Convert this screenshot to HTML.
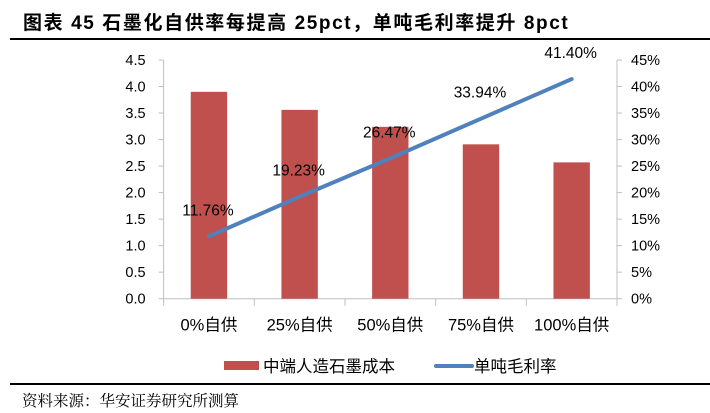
<!DOCTYPE html>
<html><head><meta charset="utf-8"><style>
body{margin:0;width:710px;height:413px;background:#fff;overflow:hidden;position:relative;font-family:"Liberation Sans","Noto Sans CJK SC",sans-serif}
.t{position:absolute;white-space:nowrap}
</style></head><body>
<div class="t" style="left:23px;top:8px;font-size:19px;font-weight:bold;color:#000;letter-spacing:1.6px">图表 45 石墨化自供率每提高 25pct，单吨毛利率提升 8pct</div>
<div style="position:absolute;left:10px;top:38px;width:700px;height:1.5px;background:#000"></div>
<svg id="c" width="710" height="413" style="position:absolute;left:0;top:0"></svg>
<div style="position:absolute;left:10px;top:383px;width:700px;height:1.5px;background:#000"></div>
<div class="t" style="left:22px;top:389px;font-size:15.5px;font-family:'Liberation Serif','Noto Serif CJK SC',serif;color:#000">资料来源：华安证券研究所测算</div>
<script>
const categories=["0%自供","25%自供","50%自供","75%自供","100%自供"];
const costValues=[3.90,3.56,3.24,2.91,2.57];
const marginValues=[11.76,19.23,26.47,33.94,41.40];
const leftTicks=["0.0","0.5","1.0","1.5","2.0","2.5","3.0","3.5","4.0","4.5"];
const rightTicks=["0%","5%","10%","15%","20%","25%","30%","35%","40%","45%"];
const svg=document.getElementById('c');const NS='http://www.w3.org/2000/svg';
const X0=163.6,X1=617,Y0=298.7,Y1=60;
const bw=(X1-X0)/categories.length;
const xc=i=>X0+bw*(i+0.5);
const yL=v=>Y0-(v/4.5)*(Y0-Y1);
const yR=v=>Y0-(v/45)*(Y0-Y1);
function mk(t,a,txt){const e=document.createElementNS(NS,t);for(const k in a)e.setAttribute(k,a[k]);if(txt!==undefined)e.textContent=txt;svg.appendChild(e);return e;}
const ax='#bfbfbf';
let e=mk('line',{x1:X0,y1:Y1,x2:X0,y2:Y0,stroke:ax});

e=mk('line',{x1:X1,y1:Y1,x2:X1,y2:Y0,stroke:ax});

e=mk('line',{x1:X0,y1:Y0,x2:X1,y2:Y0,stroke:ax});

leftTicks.forEach((l,i)=>{const y=yL(i*0.5);
mk('line',{x1:X0-5,y1:y,x2:X0,y2:y,stroke:ax});
e=mk('text',{x:X0-18,y:y+5,'text-anchor':'end','font-size':'14.5',fill:'#000'},l);
});
rightTicks.forEach((l,i)=>{const y=yR(i*5);
mk('line',{x1:X1,y1:y,x2:X1+5,y2:y,stroke:ax});
e=mk('text',{x:X1+14,y:y+5,'font-size':'14.5',fill:'#000'},l);
});
for(let i=0;i<=categories.length;i++){mk('line',{x1:X0+bw*i,y1:Y0,x2:X0+bw*i,y2:Y0+7,stroke:ax});}
categories.forEach((c,i)=>{e=mk('text',{x:xc(i),y:Y0+32,'text-anchor':'middle','font-size':'16.5',fill:'#000'},c);
});
costValues.forEach((v,i)=>{e=mk('rect',{x:xc(i)-18.2,y:yL(v),width:36.4,height:Y0-yL(v),fill:'#c0504d'});
});
e=mk('polyline',{points:marginValues.map((v,i)=>xc(i)+','+yR(v)).join(' '),fill:'none',stroke:'#4f81bd','stroke-width':4,'stroke-linecap':'round'});

marginValues.forEach((v,i)=>{e=mk('text',{x:xc(i)-1,y:yR(v)-21,'text-anchor':'middle','font-size':'15.5',fill:'#000'},v.toFixed(2)+'%');
});
e=mk('rect',{x:224,y:361,width:35,height:9,fill:'#c0504d'});

e=mk('text',{x:263,y:372,'font-size':'16.5',fill:'#000'},'中端人造石墨成本');

e=mk('line',{x1:436,y1:366,x2:472,y2:366,stroke:'#4f81bd','stroke-width':4,'stroke-linecap':'round'});

e=mk('text',{x:474,y:372,'font-size':'16.5',fill:'#000'},'单吨毛利率');

</script>
</body></html>
